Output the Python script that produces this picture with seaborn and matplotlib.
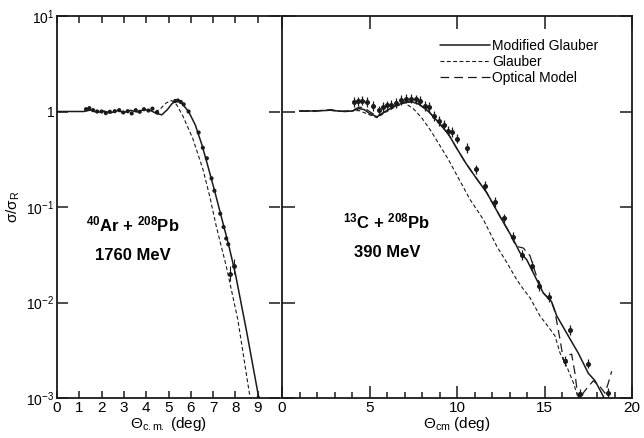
import matplotlib
matplotlib.use("Agg")
from matplotlib import pyplot as plt
from matplotlib.ticker import MultipleLocator, NullLocator, FixedLocator
import seaborn as sns
import numpy as np

# ---- 40Ar + 208Pb, 1760 MeV  (values given as log10(sigma/sigma_R)) ----
ar_mg_x = [0, 1.2, 1.5, 1.8, 2.1, 2.4, 2.7, 3.0, 3.3, 3.6, 3.9, 4.2, 4.45, 4.7, 4.95,
           5.15, 5.36, 5.58, 5.9, 6.2, 6.5, 6.8, 7.1, 7.4, 7.7, 8.0, 8.5, 9.05]
ar_mg_log = [0, 0, 0.015, -0.01, 0.005, -0.015, 0.01, -0.01, 0.012, -0.005, 0.02, 0.01,
             -0.02, -0.035, 0.02, 0.08, 0.115, 0.09, 0.0, -0.14, -0.35, -0.6, -0.86,
             -1.13, -1.4, -1.7, -2.3, -3.0]
ar_gl_x = [4.4, 4.6, 4.9, 5.13, 5.36, 5.65, 6.1, 6.55, 6.85, 7.14, 7.59, 8.11, 8.66]
ar_gl_log = [0, 0.02, 0.09, 0.115, 0.073, -0.05, -0.29, -0.61, -0.89, -1.2, -1.62, -2.18, -3.0]
ar_pts_x = [1.3, 1.45, 1.62, 1.8, 2.0, 2.19, 2.37, 2.59, 2.79, 2.97, 3.17, 3.35, 3.53,
            3.71, 3.9, 4.1, 4.28, 4.49, 5.3, 5.42, 5.55, 5.68, 5.9, 6.35, 6.54, 6.72,
            6.93, 7.06, 7.32, 7.47, 7.59, 7.68, 9.03]
ar_pts_log = [0.024, 0.035, 0.014, 0, 0, -0.017, -0.003, 0.003, 0.014, -0.01, 0.003, -0.02,
              0.014, -0.003, 0.024, 0.01, 0.03, -0.01, 0.11, 0.115, 0.1, 0.075, 0.0, -0.22,
              -0.38, -0.49, -0.70, -0.83, -1.07, -1.21, -1.33, -1.39, -3.0]
ar_err_x = [7.76, 7.93]
ar_err_log = [-1.70, -1.62]

# ---- 13C + 208Pb, 390 MeV ----
c_mg_x = [1.0, 1.8, 2.4, 2.8, 3.2, 3.6, 4.0, 4.4, 4.7, 5.0, 5.43, 5.9, 6.48, 7.05, 7.43,
          7.8, 8.38, 8.95, 9.52, 10.0, 10.5, 11.03, 11.7, 12.46, 13.22, 13.6, 13.98, 14.36,
          14.93, 15.4, 15.7, 16.36, 16.93, 17.5, 17.89, 18.27, 18.4]
c_mg_log = [0.005, 0.005, 0.01, 0.015, 0.005, 0.0, 0.005, 0.03, 0.02, -0.02, -0.056, 0.0,
            0.06, 0.10, 0.10, 0.08, 0.0, -0.115, -0.24, -0.39, -0.54, -0.68, -0.85, -1.10,
            -1.34, -1.48, -1.55, -1.69, -1.90, -1.99, -2.14, -2.35, -2.53, -2.74, -2.82,
            -2.95, -3.0]
c_gl_x = [1.0, 2.0, 2.8, 3.6, 4.4, 4.8, 5.43, 5.9, 6.48, 7.0, 7.5, 8.0, 8.5, 9.0, 9.5, 10.0,
          10.74, 11.5, 12.27, 12.84, 13.41, 13.79, 14.17, 14.74, 15.2, 15.6, 15.89, 16.27,
          16.65, 16.84, 17.0]
c_gl_log = [0.005, 0.01, 0.01, 0.0, 0.01, -0.02, -0.065, -0.01, 0.05, 0.09, 0.03, -0.07,
            -0.2, -0.35, -0.5, -0.67, -0.92, -1.13, -1.41, -1.58, -1.76, -1.86, -1.95, -2.14,
            -2.25, -2.35, -2.53, -2.67, -2.84, -2.95, -3.05]
c_om_x = [1.0, 1.8, 2.4, 2.8, 3.2, 3.6, 4.0, 4.4, 4.7, 5.0, 5.43, 5.9, 6.48, 7.05, 7.43,
          7.8, 8.38, 8.95, 9.52, 10.0, 10.5, 11.03, 11.7, 12.46, 13.0, 13.37, 13.79, 14.17,
          14.5, 14.93, 15.4, 15.6, 15.89, 16.08, 16.2, 16.4, 16.55, 16.74, 16.84, 17.05,
          17.2, 17.5, 17.79, 18.17, 18.46, 18.65, 18.84]
c_om_log = [0.005, 0.0, 0.015, 0.02, 0.0, 0.005, 0.01, 0.045, 0.04, 0.0, -0.05, 0.0, 0.06,
            0.10, 0.10, 0.08, 0.0, -0.115, -0.24, -0.39, -0.54, -0.68, -0.85, -1.10, -1.27,
            -1.41, -1.43, -1.51, -1.7, -1.9, -1.99, -2.1, -2.39, -2.60, -2.62, -2.55, -2.54,
            -2.74, -2.89, -3.1, -2.95, -2.88, -2.82, -2.88, -2.95, -2.84, -2.72]
c_pts_x = [4.13, 4.34, 4.57, 4.88, 5.18, 5.52, 5.75, 6.0, 6.25, 6.51, 6.8, 7.09, 7.37, 7.64,
           7.89, 8.15, 8.42, 8.7, 8.97, 9.24, 9.47, 9.73, 10.02, 10.55, 11.07, 11.6, 12.17,
           12.7, 13.22, 13.71, 14.3, 14.7, 15.27, 16.17, 16.46, 17.0, 17.47, 18.6]
c_pts_log = [0.10, 0.107, 0.114, 0.10, 0.056, 0.011, 0.045, 0.063, 0.073, 0.091, 0.119,
             0.136, 0.136, 0.126, 0.115, 0.056, 0.045, -0.049, -0.101, -0.143, -0.199, -0.213,
             -0.283, -0.38, -0.607, -0.775, -0.95, -1.12, -1.31, -1.50, -1.62, -1.83, -1.94,
             -2.61, -2.29, -2.96, -2.64, -2.95]
err_dex = 0.05

ytick_vals = [1e-3, 1e-2, 1e-1, 1, 10]
ytick_labels = ["$10^{-3}$", "$10^{-2}$", "$10^{-1}$", "1", "$10^{1}$"]

sns.set_theme(style="ticks")
plt.rcParams["font.family"] = ["Liberation Sans", "DejaVu Sans"]
plt.rcParams["mathtext.fontset"] = "custom"
plt.rcParams["mathtext.rm"] = "Liberation Sans"
plt.rcParams["mathtext.it"] = "Liberation Sans:italic"
plt.rcParams["mathtext.bf"] = "Liberation Sans:bold"
for key in ("text.color", "axes.labelcolor", "xtick.color", "ytick.color"):
    plt.rcParams[key] = "black"

fig = plt.figure(figsize=(6.44, 4.38), dpi=100)
ax1 = fig.add_axes([57 / 644, 40 / 438, 223 / 644, 382 / 438])
ax2 = fig.add_axes([282 / 644, 40 / 438, 350 / 644, 382 / 438])

short_dash = (0, (3.5, 2.2))
long_dash = (0, (7, 4))


def val(a):
    return 10 ** np.array(a, dtype=float)


# left panel
sns.lineplot(x=ar_mg_x, y=val(ar_mg_log), ax=ax1, color="k", lw=1.1, sort=False)
sns.lineplot(x=ar_gl_x, y=val(ar_gl_log), ax=ax1, color="k", lw=0.8, linestyle=short_dash, sort=False)
sns.scatterplot(x=ar_pts_x, y=val(ar_pts_log), ax=ax1, color="k", s=9, edgecolor="none")
ay = val(ar_err_log)
ax1.errorbar(ar_err_x, ay, yerr=[ay - ay * 10 ** -0.08, ay * 10 ** 0.08 - ay],
             fmt="o", ms=2.5, color="k", elinewidth=0.8, capsize=0)

# right panel
sns.lineplot(x=c_mg_x, y=val(c_mg_log), ax=ax2, color="k", lw=1.1, sort=False,
             label="Modified Glauber")
sns.lineplot(x=c_gl_x, y=val(c_gl_log), ax=ax2, color="k", lw=0.8, linestyle=short_dash,
             sort=False, label="Glauber")
sns.lineplot(x=c_om_x, y=val(c_om_log), ax=ax2, color="k", lw=0.9, linestyle=long_dash,
             sort=False, label="Optical Model")
cy = val(c_pts_log)
ax2.errorbar(c_pts_x, cy, yerr=[cy - cy * 10 ** -err_dex, cy * 10 ** err_dex - cy],
             fmt="o", ms=2.6, color="k", elinewidth=0.9, capsize=0)

for ax in (ax1, ax2):
    ax.set_yscale("log")
    ax.set_ylim(1e-3, 10)
    ax.yaxis.set_major_locator(FixedLocator(ytick_vals))
    ax.yaxis.set_minor_locator(NullLocator())
    for s in ax.spines.values():
        s.set_linewidth(1.3)
        s.set_color("k")
    ax.tick_params(which="both", direction="in", top=True, right=True, color="k",
                   labelsize=11, width=1.1, pad=2)
    ax.set_facecolor("white")
ax1.spines["right"].set_visible(False)

ax1.set_xlim(0, 10)
ax1.set_xticks(range(10))
ax1.set_yticklabels(ytick_labels)
ax1.tick_params(axis="x", length=5)
ax1.tick_params(axis="y", length=8, labelsize=10)
ax1.set_ylabel("σ/σ$_\\mathrm{R}$", fontsize=11, labelpad=3)
ax1.set_xlabel(r"$\Theta_{\rm c.m.}$ (deg)", fontsize=11, labelpad=0)

ax2.set_xlim(0, 20)
ax2.set_xticks([0, 5, 10, 15, 20])
ax2.xaxis.set_minor_locator(MultipleLocator(1))
ax2.tick_params(axis="x", which="major", length=9)
ax2.tick_params(axis="x", which="minor", length=4, top=False)
ax2.tick_params(axis="y", length=9, labelleft=False)
ax2.set_ylabel("")
ax2.set_xlabel(r"$\Theta_{\rm cm}$ (deg)", fontsize=11, labelpad=0)

ax1.text(0.34, 0.435, r"$^{\mathbf{40}}$Ar + $^{\mathbf{208}}$Pb", transform=ax1.transAxes,
         ha="center", fontsize=12, fontweight="bold")
ax1.text(0.34, 0.362, "1760 MeV", transform=ax1.transAxes, ha="center",
         fontsize=12, fontweight="bold")
ax2.text(0.30, 0.445, r"$^{\mathbf{13}}$C + $^{\mathbf{208}}$Pb", transform=ax2.transAxes,
         ha="center", fontsize=12, fontweight="bold")
ax2.text(0.30, 0.37, "390 MeV", transform=ax2.transAxes, ha="center",
         fontsize=12, fontweight="bold")

ax2.legend(loc="upper left", bbox_to_anchor=(0.45, 0.94), frameon=False, fontsize=10,
           handlelength=3.6, handletextpad=0.2, labelspacing=0.15, borderpad=0,
           borderaxespad=0)

fig.savefig("out.png", dpi=100, facecolor="white")
